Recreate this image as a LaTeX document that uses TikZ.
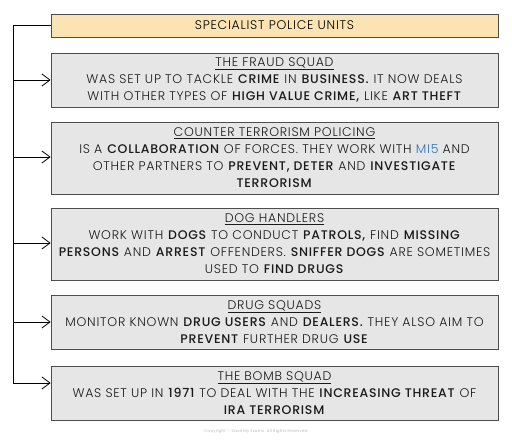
\documentclass[tikz,border=0pt]{standalone}
\usepackage{fontspec}
\setmainfont{Poppins}[UprightFont={* Light}, BoldFont={* Medium}, LetterSpace=6]
\usetikzlibrary{arrows.meta}
\definecolor{boxfill}{HTML}{E6E6E6}
\definecolor{titlefill}{HTML}{FCE3B3}
\definecolor{edge}{HTML}{4D4D4D}
\definecolor{txt}{HTML}{1A1A1A}
\definecolor{mifive}{HTML}{2E75B6}
\newcommand{\bw}[1]{\textbf{#1}}
\tikzset{
  unitbox/.style={draw=edge, line width=0.8pt, fill=boxfill, minimum width=447pt, align=center,
    inner sep=0pt, font=\fontsize{12.5}{17}\selectfont, text=txt},
  titlebox/.style={draw=edge, line width=0.8pt, fill=titlefill, minimum width=447pt, minimum height=23pt,
    inner sep=0pt, font=\fontsize{12.5}{14}\selectfont, text=black},
  link/.style={draw=black, line width=0.8pt, -{Straight Barb[length=8pt,width=12pt,line width=0.8pt]}},
}
\begin{document}
\begin{tikzpicture}[x=1pt,y=-1pt]
\useasboundingbox (0,0) rectangle (512,440);
\node[titlebox] (title) at (274.5,25.5) {SPECIALIST POLICE UNITS};
\node[unitbox, minimum height=54pt] (fraud) at (274.5,80) {\underline{THE FRAUD SQUAD}\\
WAS SET UP TO TACKLE \bw{CRIME} IN \bw{BUSINESS.} IT NOW DEALS\\
WITH OTHER TYPES OF \bw{HIGH VALUE CRIME,} LIKE \bw{ART THEFT}};
\node[unitbox, minimum height=72pt] (ct) at (274.5,158) {\underline{COUNTER TERRORISM POLICING}\\
IS A \bw{COLLABORATION} OF FORCES. THEY WORK WITH \textcolor{mifive}{MI5} AND\\
OTHER PARTNERS TO \bw{PREVENT, DETER} AND \bw{INVESTIGATE}\\
\bw{TERRORISM}};
\node[unitbox, minimum height=72pt] (dog) at (274.5,244) {\underline{DOG HANDLERS}\\
WORK WITH \bw{DOGS} TO CONDUCT \bw{PATROLS,} FIND \bw{MISSING}\\
\bw{PERSONS} AND \bw{ARREST} OFFENDERS. \bw{SNIFFER DOGS} ARE SOMETIMES\\
USED TO \bw{FIND DRUGS}};
\node[unitbox, minimum height=54pt] (drug) at (274.5,322) {\underline{DRUG SQUADS}\\
MONITOR KNOWN \bw{DRUG USERS} AND \bw{DEALERS.} THEY ALSO AIM TO\\
\bw{PREVENT} FURTHER DRUG \bw{USE}};
\node[unitbox, minimum height=54pt] (bomb) at (274.5,393) {\underline{THE BOMB SQUAD}\\
WAS SET UP IN \bw{1971} TO DEAL WITH THE \bw{INCREASING THREAT} OF\\
\bw{IRA TERRORISM}};
\coordinate (top) at (13,25.5);
\coordinate (bot) at (13,383);
\draw[line width=0.8pt] (title.west) -- (top) -- (bot);
\draw[link] (bot) -- (bot -| bomb.west);
\foreach \n/\yy in {fraud/80, ct/157, dog/243, drug/322}{
  \coordinate (j\n) at (13,\yy);
  \draw[link] (j\n) -- (j\n -| \n.west);
}
\node[font=\fontsize{4}{4}\selectfont, text=gray!70] (copy) at (256,432) {Copyright \textcopyright{} Save My Exams. All Rights Reserved};
\end{tikzpicture}
\end{document}
